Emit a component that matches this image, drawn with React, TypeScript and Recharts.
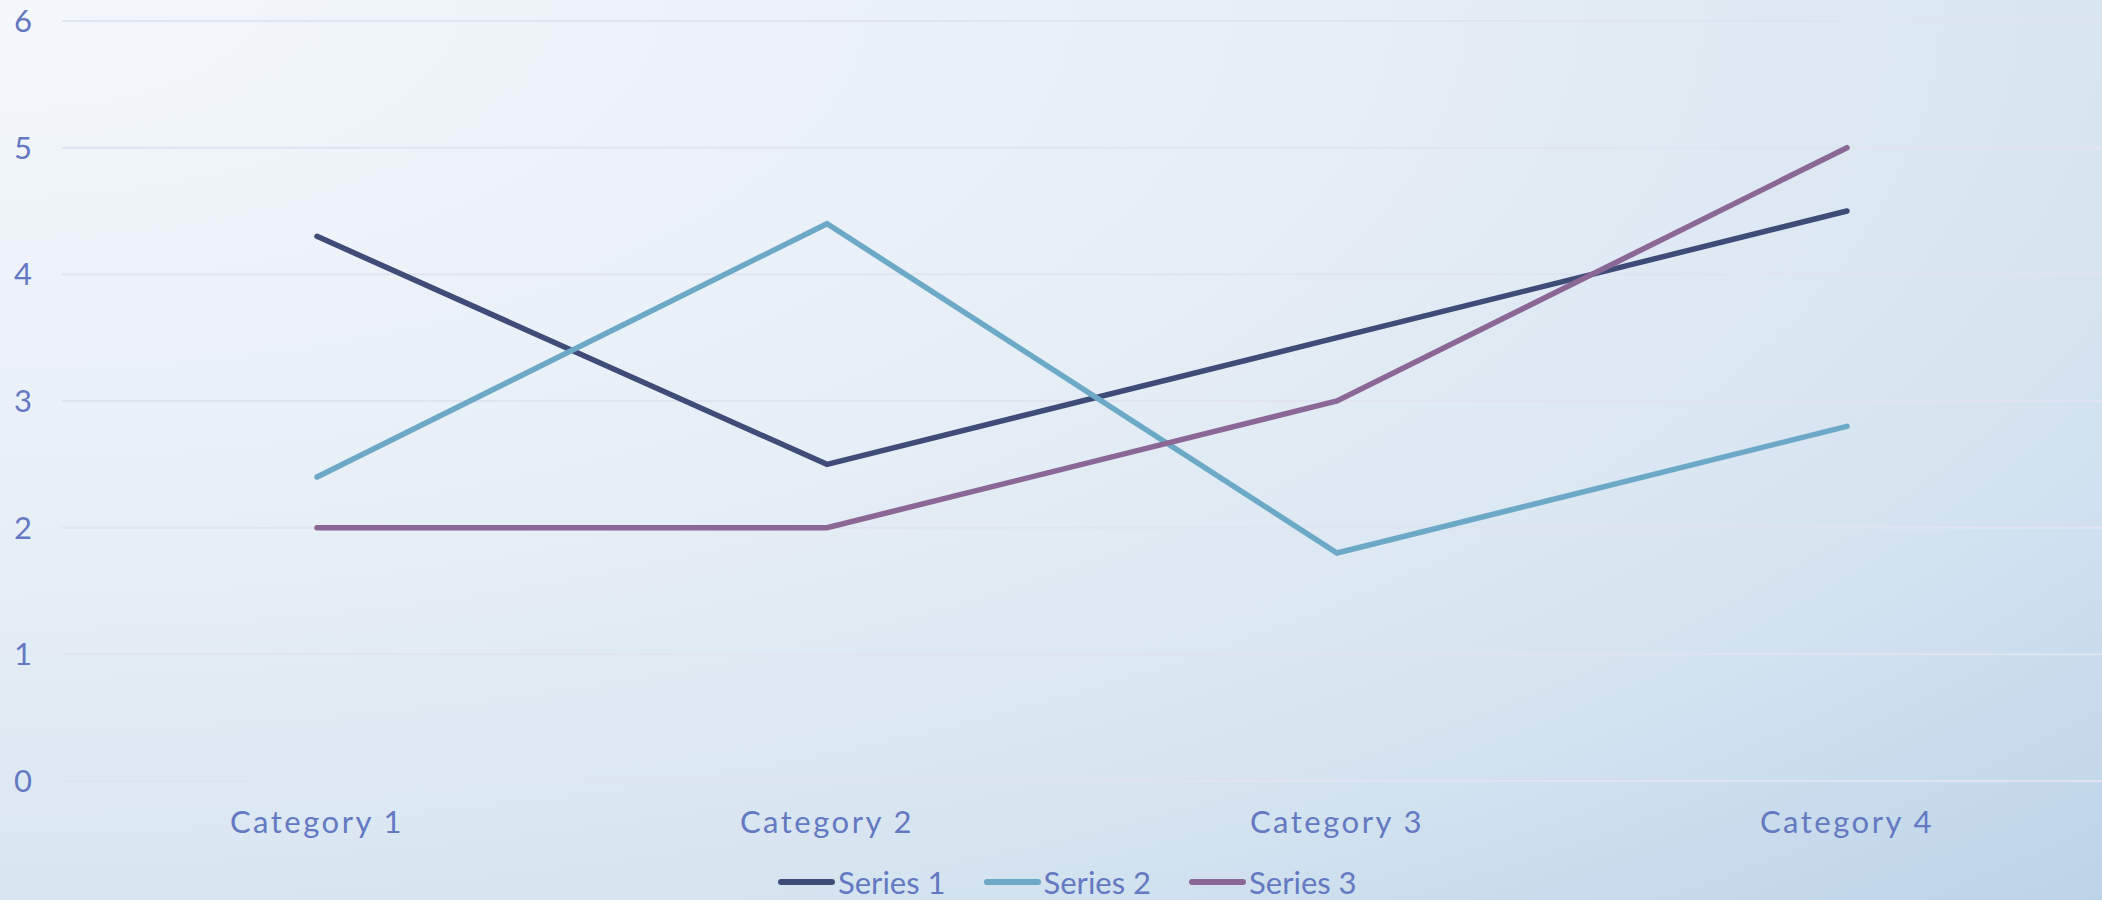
import { LineChart, Line, XAxis, YAxis, CartesianGrid, Legend } from "recharts";

const categories = ["Category 1", "Category 2", "Category 3", "Category 4"];
const series1 = [4.3, 2.5, 3.5, 4.5];
const series2 = [2.4, 4.4, 1.8, 2.8];
const series3 = [2, 2, 3, 5];
const yTicks = [0, 1, 2, 3, 4, 5, 6];

const SERIES = [
  { key: "s1", name: "Series 1", color: "#3f4c78", values: series1 },
  { key: "s2", name: "Series 2", color: "#6ba9c6", values: series2 },
  { key: "s3", name: "Series 3", color: "#8b6795", values: series3 },
];

const FONT = "'Century Gothic', Lato, 'DejaVu Sans', sans-serif";
const TEXT = "#6479c2";
const SPACING = 2.5;

export default function App() {
  const data = categories.map((c, i) => {
    const row: Record<string, string | number> = { name: c };
    SERIES.forEach((s) => (row[s.key] = s.values[i]));
    return row;
  });

  // legend drawn by hand, Excel style
  const renderLegend = () => (
    <div
      style={{
        display: "flex",
        alignItems: "center",
        paddingLeft: 778,
        height: 32,
        fontFamily: FONT,
        fontSize: 31,
        lineHeight: "30px",
        color: TEXT,
      }}
    >
      {SERIES.map((s) => (
        <div key={s.key} style={{ display: "flex", alignItems: "center", marginRight: 38 }}>
          <div
            style={{
              width: 57,
              height: 6,
              borderRadius: 3,
              backgroundColor: s.color,
              marginRight: 3,
            }}
          />
          <span style={{ lineHeight: "30px" }}>{s.name}</span>
        </div>
      ))}
    </div>
  );

  return (
    <div
      style={{
        position: "absolute",
        left: 0,
        top: 0,
        width: 2102,
        height: 900,
        overflow: "hidden",
        background:
          "radial-gradient(ellipse farthest-corner at 0% 0%, #f4f7fb 0%, #e6eef6 45%, #d6e4f0 75%, #bdd3e8 100%)",
      }}
    >
      <LineChart
        width={2102}
        height={900}
        data={data}
        margin={{ top: 21, right: 0, bottom: 2, left: 0 }}
      >
        <CartesianGrid vertical={false} stroke="#dfe4f0" strokeWidth={2} />
        <XAxis
          dataKey="name"
          scale="band"
          axisLine={false}
          tickLine={false}
          tickSize={0}
          tickMargin={30}
          height={85}
          tick={{ fill: TEXT, fontSize: 31, fontFamily: FONT, letterSpacing: SPACING }}
        />
        <YAxis
          domain={[0, 6]}
          ticks={yTicks}
          width={62}
          axisLine={false}
          tickLine={false}
          tickSize={0}
          tickMargin={30}
          tick={{ fill: TEXT, fontSize: 31, fontFamily: FONT }}
        />
        <Legend verticalAlign="bottom" height={32} content={renderLegend} />
        {SERIES.map((s) => (
          <Line
            key={s.key}
            dataKey={s.key}
            name={s.name}
            stroke={s.color}
            strokeWidth={5.5}
            strokeLinecap="round"
            dot={false}
            activeDot={false}
            isAnimationActive={false}
          />
        ))}
      </LineChart>
    </div>
  );
}
